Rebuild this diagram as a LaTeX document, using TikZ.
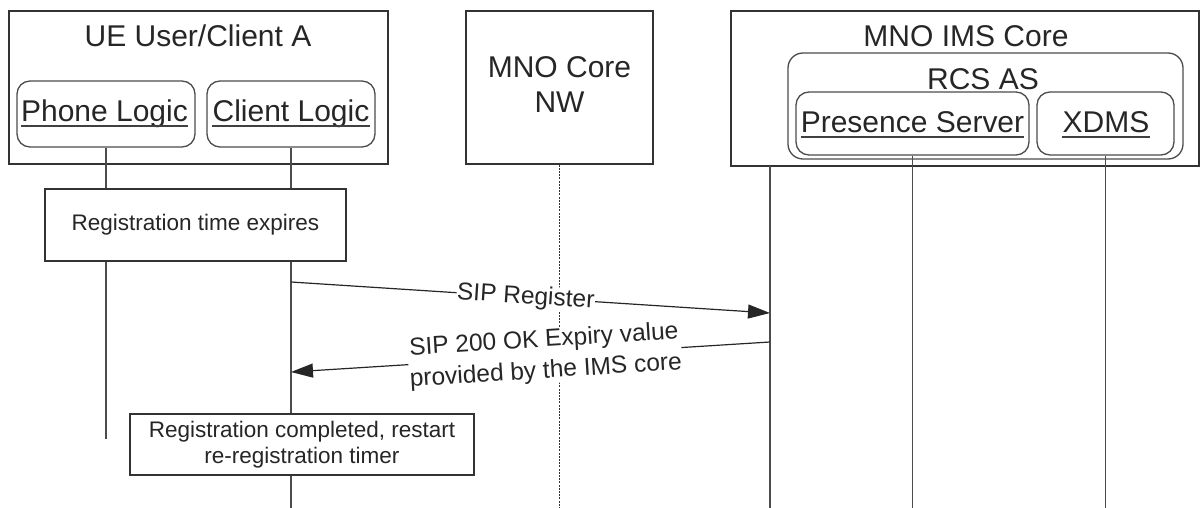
\documentclass[tikz,border=0pt]{standalone}
\usepackage{fontspec}
\setmainfont{Liberation Sans}
\usetikzlibrary{arrows.meta}
\begin{document}
\begin{tikzpicture}[x=1pt,y=-1pt,
  frame/.style={draw=black!80, line width=1.3pt, rectangle, inner sep=0pt},
  rbox/.style={draw=black!70, line width=1.3pt, rounded corners=13pt, rectangle, inner sep=0pt},
  big/.style={font=\fontsize{30}{35}\selectfont, text=black!85, inner sep=0pt, anchor=base},
  note/.style={draw=black!80, fill=white, line width=1.1pt, inner sep=0pt,
    font=\fontsize{22.5}{26}\selectfont, text=black!85, align=center},
  life/.style={draw=black!70, line width=1.5pt},
  nwlife/.style={draw=black!80, line width=1.1pt, dash pattern=on 2pt off 1.2pt},
  msg/.style={draw=black!85, line width=1.2pt, -{Triangle[length=22pt,width=14pt]}},
  msgtext/.style={font=\fontsize{24.5}{31}\selectfont, text=black!85, fill=white,
    inner sep=0.5pt, sloped, align=center},
  ulin/.style={draw=black!75, line width=1.2pt}
]
\useasboundingbox (0,0) rectangle (1203,508);

% ---- UE User/Client A ----
\node[frame, minimum width=379pt, minimum height=153pt] (ue) at (198.5,87.5) {};
\node[big] (uet) at (198,47) {UE User/Client A};
\node[rbox, minimum width=178pt, minimum height=66pt] (pl) at (106,114) {};
\node[big] (plt) at (104.5,122) {Phone Logic};
\draw[ulin] ([yshift=-4pt]plt.base west) -- ([yshift=-4pt]plt.base east);
\node[rbox, minimum width=168pt, minimum height=66pt] (cl) at (291,114) {};
\node[big] (clt) at (291,122) {Client Logic};
\draw[ulin] ([yshift=-4pt]clt.base west) -- ([yshift=-4pt]clt.base east);

% ---- MNO Core NW ----
\node[frame, minimum width=187pt, minimum height=153pt] (nw) at (559.5,87.5) {};
\node[big] (nwt1) at (559.5,78) {MNO Core};
\node[big] (nwt2) at (559.5,113) {NW};

% ---- MNO IMS Core ----
\node[frame, minimum width=468pt, minimum height=155pt] (ims) at (965,88.5) {};
\node[big] (imst) at (966,47) {MNO IMS Core};
\node[rbox, rounded corners=15pt, minimum width=395pt, minimum height=106pt] (rcs) at (985.5,106) {};
\node[big] (rcst) at (983,90) {RCS AS};
\node[rbox, minimum width=233pt, minimum height=63pt] (ps) at (912.5,123.5) {};
\node[big] (pst) at (912.5,133) {Presence Server};
\draw[ulin] ([yshift=-4pt]pst.base west) -- ([yshift=-4pt]pst.base east);
\node[rbox, minimum width=137pt, minimum height=63pt] (xd) at (1105.5,123.5) {};
\node[big] (xdt) at (1106,133) {XDMS};
\draw[ulin] ([yshift=-4pt]xdt.base west) -- ([yshift=-4pt]xdt.base east);

% ---- lifelines ----
\coordinate (plEnd) at (106,439);
\coordinate (clEnd) at (291,508);
\coordinate (nwEnd) at (559.5,508);
\coordinate (imsTop) at (770,166);
\coordinate (imsEnd) at (770,508);
\coordinate (psEnd) at (912.5,508);
\coordinate (xdEnd) at (1105.5,508);
\draw[life] (pl.south) -- (plEnd);
\draw[life] (cl.south) -- (clEnd);
\draw[nwlife] (nw.south) -- (nwEnd);
\draw[life] (imsTop) -- (imsEnd);
\draw[life] (ps.south) -- (psEnd);
\draw[life] (xd.south) -- (xdEnd);

% ---- notes ----
\node[note, minimum width=301pt, minimum height=72pt] (n1) at (195.5,225) {Registration time expires};
\node[note, minimum width=344pt, minimum height=61pt] (n2) at (302,444.5)
  {Registration completed, restart\\re-registration timer};

% ---- messages ----
\coordinate (regA) at (291,282);
\coordinate (regB) at (770,313);
\coordinate (okA) at (770,342);
\coordinate (okB) at (291,372);
\draw[msg] (regA) -- node[msgtext, pos=0.49] (regt) {SIP Register} (regB);
\draw[msg] (okA) -- node[msgtext, pos=0.47] (okt) {SIP 200 OK Expiry value\\provided by the IMS core} (okB);
\end{tikzpicture}
\end{document}
